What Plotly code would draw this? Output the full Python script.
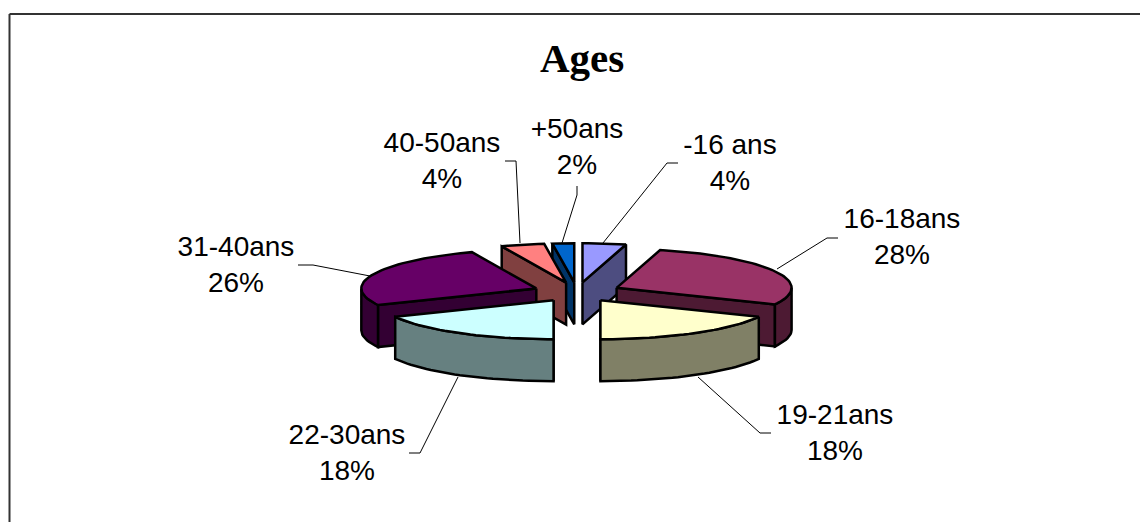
import math
import plotly.graph_objects as go

# ---- data ----
categories = ["-16 ans", "16-18ans", "19-21ans", "22-30ans", "31-40ans", "40-50ans", "+50ans"]
percent_values = [4, 28, 18, 18, 26, 4, 2]
top_colors = ["#9999FF", "#993366", "#FFFFCC", "#CCFFFF", "#660066", "#FF8080", "#0066CC"]
side_colors = ["#4D4D80", "#4D1A33", "#808066", "#668080", "#330033", "#804040", "#003366"]
title_text = "Ages"

# ---- layout constants (pixel-space axes) ----
W, H = 1140, 522
CX, CY = 577, 292
RX, RY = 175, 39
DEPTH = 42
EXPLODE = 0.25
draw_order = [6, 5, 0, 1, 4, 2, 3]
label_xy = [(730, 165), (902, 239), (835, 435), (347, 455), (236, 267), (442, 163), (577, 149)]
leader_xy = [
    [(603, 243), (667, 163), (678, 163)],
    [(777, 269), (827, 238), (838, 238)],
    [(698, 377), (760, 433), (771, 433)],
    [(458, 377), (420, 453), (409, 453)],
    [(370, 276), (313, 265), (298, 265)],
    [(520, 243), (516, 161), (505, 161)],
    [(562, 243), (577, 195), (577, 186)],
]

fig = go.Figure()


def pt(theta, tip, r=1.0, dz=0):
    a = math.radians(theta)
    return tip[0] + r * RX * math.sin(a), tip[1] - r * RY * math.cos(a) + dz


def arc(t0, t1, tip, dz=0):
    n = max(2, int(abs(t1 - t0) / 2) + 1)
    return [pt(t0 + (t1 - t0) * i / (n - 1), tip, 1.0, dz) for i in range(n)]


def poly(points, color):
    xs = [p[0] for p in points] + [points[0][0]]
    ys = [p[1] for p in points] + [points[0][1]]
    fig.add_trace(go.Scatter(
        x=xs, y=ys, mode="lines", fill="toself", fillcolor=color,
        line=dict(color="#000000", width=2.5), hoverinfo="skip", showlegend=False,
    ))


total = sum(percent_values)
angles = []
acc = 0
for v in percent_values:
    start = acc / total * 360
    acc += v
    angles.append((start, acc / total * 360))

for i in draw_order:
    t0, t1 = angles[i]
    mid = (t0 + t1) / 2
    tip = pt(mid, (CX, CY), EXPLODE)
    side = side_colors[i]
    tip_low = (tip[0], tip[1] + DEPTH)
    if 180 <= t0 < 360:
        poly([tip, pt(t0, tip), pt(t0, tip, 1, DEPTH), tip_low], side)
    if 0 < t1 <= 180:
        poly([tip, pt(t1, tip), pt(t1, tip, 1, DEPTH), tip_low], side)
    a0, a1 = max(t0, 90), min(t1, 270)
    if a1 > a0:
        poly(arc(a0, a1, tip) + arc(a1, a0, tip, DEPTH), side)
    poly([tip] + arc(t0, t1, tip), top_colors[i])

for seg in leader_xy:
    fig.add_trace(go.Scatter(
        x=[p[0] for p in seg], y=[p[1] for p in seg], mode="lines",
        line=dict(color="#000000", width=1), hoverinfo="skip", showlegend=False,
    ))

fig.add_trace(go.Scatter(
    x=[p[0] for p in label_xy], y=[p[1] for p in label_xy], mode="text",
    text=[f"{c}<br>{v}%" for c, v in zip(categories, percent_values)],
    textposition="middle center",
    textfont=dict(family="Liberation Sans", size=28, color="#000000"),
    hoverinfo="skip", showlegend=False,
))

fig.add_annotation(
    x=582, y=58, xref="x", yref="y", text=f"<b>{title_text}</b>", showarrow=False,
    font=dict(family="Liberation Serif", size=41, color="#000000"),
)

frame = dict(color="#333333", width=2)
fig.add_shape(type="line", x0=9.5, x1=W, y0=14, y1=14, line=frame)
fig.add_shape(type="line", x0=9.5, x1=9.5, y0=14, y1=H, line=frame)

fig.update_layout(
    width=W, height=H, margin=dict(l=0, r=0, t=0, b=0),
    paper_bgcolor="#FFFFFF", plot_bgcolor="#FFFFFF",
    xaxis=dict(range=[0, W], visible=False, fixedrange=True),
    yaxis=dict(range=[H, 0], visible=False, fixedrange=True),
    showlegend=False,
)
fig.write_html(
    "out.html",
    config={"displayModeBar": False},
    post_script="document.body.style.margin='0';document.body.style.overflow='hidden';",
)
